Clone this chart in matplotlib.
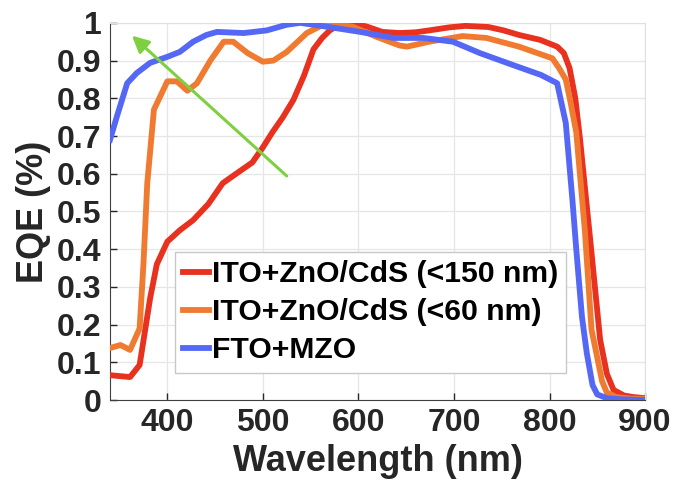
import numpy as np
import matplotlib
matplotlib.use("Agg")
import matplotlib.pyplot as plt

# ITO+ZnO/CdS (<150 nm)
wl_red = [340, 361, 371, 382, 389, 400, 413, 427, 443, 458, 472, 489, 500, 510,
          521, 532, 543, 553, 562, 570, 580, 588, 600, 609, 625, 643, 660, 674,
          695, 712, 736, 752, 768, 790, 808, 815, 821, 827, 832, 842, 853, 860,
          867, 878, 888, 900]
eqe_red = [0.066, 0.061, 0.093, 0.27, 0.36, 0.42, 0.45, 0.477, 0.52, 0.575,
           0.60, 0.63, 0.67, 0.71, 0.75, 0.796, 0.86, 0.93, 0.96, 0.98,
           0.995, 1.0, 0.995, 0.99, 0.976, 0.973, 0.975, 0.98, 0.988, 0.992,
           0.989, 0.98, 0.968, 0.955, 0.937, 0.92, 0.88, 0.80, 0.69, 0.44,
           0.16, 0.07, 0.027, 0.012, 0.008, 0.005]

# ITO+ZnO/CdS (<60 nm)
wl_org = [340, 351, 361, 371, 375, 379, 386, 400, 410, 421, 431, 445, 459, 469,
          484, 500, 511, 525, 546, 567, 594, 619, 643, 651, 674, 709, 734, 768,
          803, 810, 817, 822, 828, 837, 844, 849, 855, 860, 870, 885, 900]
eqe_org = [0.138, 0.146, 0.133, 0.19, 0.36, 0.575, 0.77, 0.845, 0.845, 0.82,
           0.84, 0.90, 0.95, 0.95, 0.92, 0.897, 0.90, 0.923, 0.973, 1.0,
           0.99, 0.963, 0.94, 0.937, 0.95, 0.965, 0.96, 0.937, 0.906, 0.88,
           0.85, 0.79, 0.71, 0.45, 0.186, 0.125, 0.05, 0.02, 0.008, 0.004, 0.003]

# FTO+MZO
wl_blu = [340, 347, 358, 368, 382, 400, 413, 427, 441, 452, 480, 504, 525, 539,
          553, 574, 602, 637, 668, 699, 727, 762, 791, 808, 817, 824, 828, 834,
          839, 845, 850, 860, 875, 900]
eqe_blu = [0.69, 0.75, 0.84, 0.867, 0.894, 0.91, 0.923, 0.95, 0.968, 0.976,
           0.973, 0.98, 0.995, 1.0, 0.995, 0.987, 0.976, 0.96, 0.96, 0.95,
           0.92, 0.888, 0.862, 0.84, 0.735, 0.53, 0.40, 0.22, 0.125, 0.04,
           0.015, 0.005, 0.002, 0.0]

labels = ["ITO+ZnO/CdS (<150 nm)", "ITO+ZnO/CdS (<60 nm)", "FTO+MZO"]
colors = ["#E8311F", "#F07A30", "#5468F5"]

plt.rcParams["font.family"] = ["Liberation Sans", "DejaVu Sans"]
plt.rcParams["font.weight"] = "bold"

fig = plt.figure(figsize=(6.79, 4.97), dpi=100)
ax = fig.add_axes([0.162, 0.195, 0.788, 0.759])

ax.plot(wl_red, eqe_red, color=colors[0], linewidth=4.2, label=labels[0], zorder=3)
ax.plot(wl_org, eqe_org, color=colors[1], linewidth=4.2, label=labels[1], zorder=3)
ax.plot(wl_blu, eqe_blu, color=colors[2], linewidth=4.2, label=labels[2], zorder=3)

# green trend arrow
ax.annotate(
    "",
    xy=(363, 0.966),
    xytext=(525, 0.594),
    arrowprops=dict(
        arrowstyle="-|>,head_length=1.0,head_width=0.5",
        color="#7ED040",
        linewidth=2.2,
        shrinkA=0,
        shrinkB=0
    ),
    zorder=4
)

ax.set_xlim(340, 900)
ax.set_ylim(0, 1)
ax.set_xticks([400, 500, 600, 700, 800, 900])
ax.set_yticks(np.round(np.arange(0, 1.01, 0.1), 1))
ax.set_yticklabels(["0", "0.1", "0.2", "0.3", "0.4", "0.5", "0.6", "0.7",
                    "0.8", "0.9", "1"])

ax.tick_params(direction="in", length=5, width=1, labelsize=23,
               colors="#262626", pad=6)
for lab in ax.get_xticklabels() + ax.get_yticklabels():
    lab.set_fontweight("bold")

ax.grid(True, color="#E6E6E6", linewidth=0.9)
ax.set_axisbelow(True)

ax.spines["left"].set_color("#404040")
ax.spines["bottom"].set_color("#404040")
ax.spines["top"].set_color("#E0E0E0")
ax.spines["right"].set_color("#E0E0E0")

ax.set_xlabel("Wavelength (nm)", fontsize=26, fontweight="bold",
              color="#262626", labelpad=4)
ax.set_ylabel("EQE (%)", fontsize=26, fontweight="bold",
              color="#262626", labelpad=4)

leg = ax.legend(
    loc="upper left",
    bbox_to_anchor=(0.121, 0.393),
    fontsize=21.7,
    frameon=True,
    fancybox=False,
    framealpha=1,
    edgecolor="#C8C8C8",
    handlelength=0.85,
    handletextpad=0.1,
    borderpad=0.28,
    labelspacing=0.33,
    borderaxespad=0
)
leg.set_zorder(5)
leg.get_frame().set_linewidth(1.0)
for t in leg.get_texts():
    t.set_fontweight("bold")

fig.savefig("out.png", dpi=100)
